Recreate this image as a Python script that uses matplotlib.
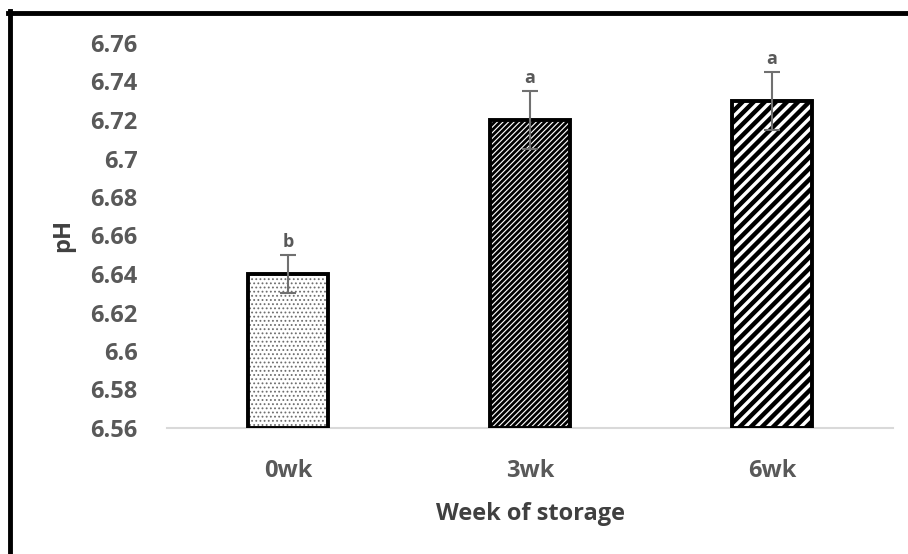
import matplotlib.pyplot as plt
from matplotlib.lines import Line2D

plt.rcParams['font.family'] = ['Open Sans', 'DejaVu Sans']

weeks = ['0wk', '3wk', '6wk']
ph_mean = [6.64, 6.72, 6.73]
ph_err = [0.01, 0.015, 0.015]
letters = ['b', 'a', 'a']
y_ticks = [6.56, 6.58, 6.6, 6.62, 6.64, 6.66, 6.68, 6.7, 6.72, 6.74, 6.76]
tick_text = ['6.56', '6.58', '6.6', '6.62', '6.64', '6.66', '6.68', '6.7',
             '6.72', '6.74', '6.76']

hatches = ['....', '//////', '///']
hatch_cols = ['#6e6e6e', 'black', 'black']
hatch_lw = [0.8, 2.0, 3.2]

fig = plt.figure(figsize=(9.08, 5.54), dpi=100)
ax = fig.add_axes([167 / 908, 1 - 428 / 554, 726 / 908, 385 / 554])

x = list(range(len(weeks)))
base = y_ticks[0]
heights = [v - base for v in ph_mean]

# hatched fill first (one call per bar so each gets its own hatch width),
# thick black outline on top
for xi, h, hp, hc, lw in zip(x, heights, hatches, hatch_cols, hatch_lw):
    plt.rcParams['hatch.linewidth'] = lw
    ax.bar(xi, h, width=0.327, bottom=base, color='white',
           edgecolor=hc, hatch=hp, linewidth=0, zorder=2)
ax.bar(x, heights, width=0.327, bottom=base, fill=False,
       edgecolor='black', linewidth=2.8, zorder=3)
ax.errorbar(x, ph_mean, yerr=ph_err, fmt='none', ecolor='#707070',
            elinewidth=1.5, capsize=5.5, capthick=1.5, zorder=4)

for xi, m, e, t in zip(x, ph_mean, ph_err, letters):
    ax.annotate(t, (xi, m + e), xytext=(0, 3), textcoords='offset points',
                ha='center', va='bottom', fontsize=13, fontweight='bold',
                color='#595959')

ax.set_xlim(-0.5, 2.5)
ax.set_ylim(6.56, 6.76)
ax.set_yticks(y_ticks)
ax.set_yticklabels(tick_text)
ax.set_xticks(x)
ax.set_xticklabels(weeks)
ax.tick_params(length=0, labelsize=17, labelcolor='#595959')
ax.tick_params(axis='y', pad=21)
ax.tick_params(axis='x', pad=22)
for lab in ax.get_xticklabels() + ax.get_yticklabels():
    lab.set_fontweight('bold')

for s in ['top', 'right', 'left']:
    ax.spines[s].set_visible(False)
ax.spines['bottom'].set_color('#d9d9d9')
ax.spines['bottom'].set_linewidth(1.5)
ax.spines['bottom'].set_zorder(1)

ax.set_xlabel('Week of storage', fontsize=17, fontweight='bold',
              color='#404040', labelpad=14)
ax.set_ylabel('pH', fontsize=17, fontweight='bold', color='#404040',
              labelpad=11)

# frame drawn on the left and top edges only
fig.add_artist(Line2D([10 / 908, 10 / 908], [0, 1 - 11 / 554],
                      transform=fig.transFigure, color='black', linewidth=3.5))
fig.add_artist(Line2D([8 / 908, 1], [1 - 13 / 554, 1 - 13 / 554],
                      transform=fig.transFigure, color='black', linewidth=3.5))

fig.savefig('out.png', dpi=100)
